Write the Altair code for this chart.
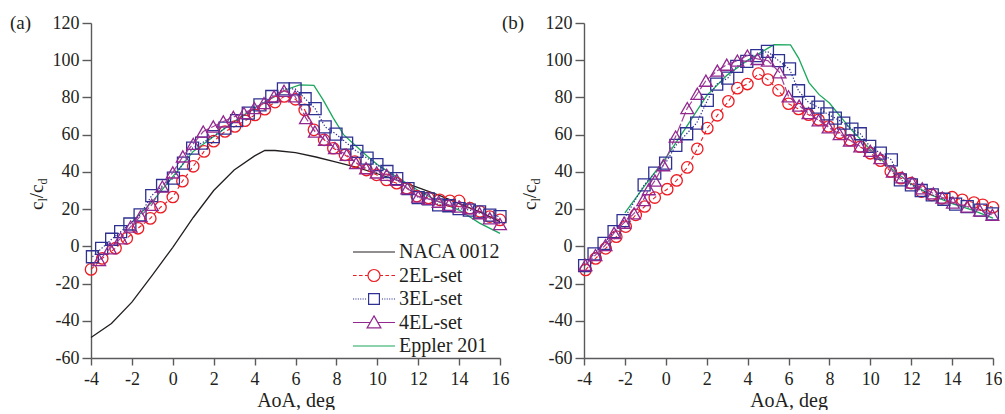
import altair as alt
import pandas as pd

SERIES = ["NACA 0012", "2EL-set", "3EL-set", "4EL-set", "Eppler 201"]
COLORS = ["#231f20", "#ed1c24", "#2e3192", "#92278f", "#1aa85c"]
X_TICKS = [-4, -2, 0, 2, 4, 6, 8, 10, 12, 14, 16]
Y_TICKS = [-60, -40, -20, 0, 20, 40, 60, 80, 100, 120]

# ---------------- panel (a) ----------------
A_NACA_X = [-4, -3, -2, -1, 0, 1, 2, 3, 4, 4.5, 5, 6, 7, 8, 9, 10, 11, 12, 13, 14, 15, 16]
A_NACA_Y = [-49, -41.5, -30, -15.5, -0.5, 15.5, 30.0, 41.0, 48.6, 51.5, 51.5, 50.3, 48.0, 45.2, 42.4, 39.0,
            35.5, 31.5, 27.5, 23.0, 18.5, 13.3]

A_EPP_X = [-2, -1, 0, 1, 2, 3, 4, 5, 5.5, 6.2, 6.9, 7.35, 7.85, 8.35, 8.9, 9.5, 10, 11, 12, 13, 14, 15, 16]
A_EPP_Y = [13, 24, 37.5, 51, 59, 67, 74.5, 80.5, 84, 86.8, 86.5, 78.7, 68.9, 60, 54.5, 48.5, 44, 37, 30,
           24, 19.5, 12.5, 7]

A_2EL_X = [-4, -3.45, -2.8, -2.25, -1.7, -1.1, -0.6, 0, 0.47, 1.0, 1.53, 2.0, 2.55, 3.04, 3.53, 4.02, 4.5,
           5.0, 5.45, 6.0, 6.45, 6.9, 7.4, 7.85, 8.42, 8.9, 9.47, 9.96, 10.45, 10.95, 11.44, 11.93, 12.5,
           13.05, 13.55, 14.0, 14.53, 15.02, 15.5, 16.0]
A_2EL_Y = [-12.4, -6.5, -1.0, 4.3, 9.7, 15.0, 21.0, 26.5, 35.0, 43.0, 51.0, 56.5, 61.7, 64.4, 67.5, 70.6,
           73.7, 77.5, 80.5, 79.0, 73.3, 62.6, 57.2, 52.7, 49.1, 45.5, 41.0, 38.4, 35.7, 33.9, 31.2, 27.0,
           26.0, 25.0, 24.5, 24.4, 20.5, 18.7, 16.0, 14.2]

A_3EL_X = [-3.93, -3.48, -2.99, -2.55, -2.1, -1.6, -1.03, -0.5, 0.03, 0.52, 0.97, 1.41, 1.98, 2.55, 3.12,
           3.69, 4.26, 4.84, 5.41, 5.98, 6.47, 6.96, 7.45, 7.98, 8.5, 9.0, 9.5, 9.98, 10.47, 10.95, 11.5,
           12.0, 12.5, 13.0, 13.5, 14.0, 14.5, 15.0, 15.5, 16.0]
A_3EL_Y = [-5.6, -1.1, 3.8, 7.9, 12.0, 16.9, 27.3, 32.7, 36.6, 44.7, 52.8, 55.5, 59.0, 63.5, 67.5, 71.6,
           76.0, 80.5, 84.6, 84.6, 79.3, 74.0, 64.2, 60.3, 55.5, 51.0, 47.4, 43.9, 40.2, 36.4, 31.0, 26.2,
           25.5, 22.3, 21.8, 20.3, 19.5, 18.5, 16.8, 16.0]

A_4EL_X = [-3.6, -3.07, -2.55, -2.06, -1.57, -1.03, -0.51, 0.0, 0.49, 1.0, 1.49, 1.98, 2.47, 2.96, 3.48,
           3.99, 4.46, 4.95, 5.44, 5.98, 6.51, 6.95, 7.44, 7.93, 8.5, 8.96, 9.45, 9.97, 10.46, 10.95, 11.47,
           12.0, 12.5, 13.0, 13.5, 14.0, 14.5, 15.0, 15.5, 16.0]
A_4EL_Y = [-7.4, -1.1, 4.3, 10.6, 16.3, 22.3, 32.1, 39.7, 48.3, 55.1, 61.7, 64.4, 67.1, 69.5, 71.6, 74.3,
           77.0, 80.6, 83.6, 80.6, 68.9, 61.7, 57.3, 52.8, 49.2, 44.7, 42.0, 39.7, 38.4, 35.7, 31.2, 26.7,
           25.5, 24.0, 22.3, 21.4, 20.5, 17.8, 15.1, 12.0]

# ---------------- panel (b) ----------------
B_EPP_X = [-2, -1, 0, 1, 2, 3, 4, 5, 5.3, 6.1, 6.5, 7.0, 7.5, 8.0, 9, 10, 11, 12, 13, 14, 15, 16]
B_EPP_Y = [18, 33, 47.5, 64, 81, 92, 100, 106.5, 108.3, 108.2, 101, 88, 81.5, 77, 63.5, 52, 42, 33.5,
           27.5, 23, 19.5, 15.2]

B_2EL_X = [-3.92, -3.43, -2.94, -2.42, -1.96, -1.47, -1.03, -0.54, 0.07, 0.53, 1.05, 1.54, 2.03, 2.52,
           3.06, 3.5, 3.99, 4.53, 4.99, 5.51, 6.0, 6.49, 6.98, 7.47, 7.96, 8.5, 9.0, 9.5, 10.0, 10.5, 11.0,
           11.5, 12.0, 12.5, 13.0, 13.5, 14.0, 14.5, 15.07, 15.5, 16.0]
B_2EL_Y = [-12.7, -6.5, -1.1, 5.2, 10.6, 16.9, 21.4, 26.2, 30.7, 35.4, 42.4, 52.4, 63.5, 70.4, 77.9, 85.0,
           87.2, 92.8, 89.6, 83.8, 76.6, 73.8, 70.7, 68.0, 64.4, 61.0, 57.0, 53.5, 50.0, 46.0, 40.2, 36.6,
           34.0, 29.4, 27.6, 25.8, 26.4, 25.0, 23.5, 22.3, 21.0]

B_3EL_X = [-3.97, -3.51, -3.02, -2.53, -2.09, -1.06, -0.54, -0.01, 0.49, 1.02, 1.51, 2.03, 2.49, 3.03,
           3.47, 3.96, 4.45, 4.97, 5.51, 6.05, 6.49, 6.98, 7.44, 7.88, 8.29, 8.7, 9.1, 9.51, 9.97, 10.49,
           11.03, 11.47, 12.01, 12.49, 13.03, 13.6, 14.17, 14.74, 15.4, 15.97]
B_3EL_Y = [-10.4, -4.1, 1.6, 7.9, 13.8, 33.0, 39.3, 44.7, 54.2, 60.5, 66.2, 78.4, 87.2, 90.4, 96.7, 99.4,
           102.5, 104.8, 99.8, 95.3, 83.6, 77.3, 74.8, 71.2, 68.9, 66.2, 63.0, 60.5, 53.7, 50.1, 46.5, 35.7,
           33.0, 30.0, 27.6, 25.3, 22.7, 21.3, 19.5, 17.4]

B_4EL_X = [-3.93, -3.44, -2.95, -2.53, -2.04, -1.55, -1.1, -0.83, -0.53, -0.12, 0.48, 1.05, 1.54, 1.96,
           2.52, 2.98, 3.5, 3.99, 4.48, 4.99, 5.56, 6.0, 6.52, 6.98, 7.47, 7.96, 8.5, 9.0, 9.51, 10.0,
           10.49, 11.1, 11.56, 12.05, 12.54, 13.08, 13.52, 14.04, 14.74, 15.36, 15.97]
B_4EL_Y = [-10.0, -4.7, 0.7, 7.2, 12.7, 17.7, 24.9, 30.7, 35.3, 43.6, 59.0, 74.3, 82.0, 89.0, 94.4, 97.6,
           99.8, 102.5, 100.7, 99.8, 93.5, 80.6, 75.6, 71.6, 67.7, 63.9, 60.3, 56.9, 53.7, 51.3, 47.4, 40.2,
           37.1, 34.3, 31.2, 28.5, 26.2, 23.5, 21.4, 19.2, 16.9]

FONT = "Liberation Serif"
INK = "#231f20"
W, H = 409, 335
LABEL_EXPR = "datum.value < 0 ? '-' + abs(datum.value) : '' + datum.value"


def segs(pairs):
    return "".join(f"M{a},0H{b}" for a, b in pairs)


CIRCLE = "M1,0A1,1,0,1,1,-1,0A1,1,0,1,1,1,0Z"
SQUARE = "M-0.9,-0.9H0.9V0.9H-0.9Z"
TRIANGLE = "M0,-1.1L1.15,0.9H-1.15Z"
dots_left = [(round(-3.5 + 0.4 * i, 2), round(-3.5 + 0.4 * i + 0.18, 2)) for i in range(6)]
dots_right = [(-b, -a) for a, b in dots_left]
LEGEND_SHAPES = [
    segs([(-3.5, 3.5)]),
    segs([(-3.5, -2.9), (-2.5, -1.9), (-1.5, -1.0), (1.0, 1.5), (1.9, 2.5), (2.9, 3.5)]) + CIRCLE,
    segs(dots_left + dots_right) + SQUARE,
    segs([(-3.5, -0.63), (0.63, 3.5)]) + TRIANGLE,
    segs([(-3.5, 3.5)]),
]


def xenc():
    return alt.X("x:Q", scale=alt.Scale(domain=[-4, 16], nice=False, zero=False),
                 axis=alt.Axis(values=X_TICKS, title="AoA, deg", tickSize=7, labelPadding=5,
                               titlePadding=2, labelFlush=False, labelExpr=LABEL_EXPR))


def yenc():
    return alt.Y("y:Q", scale=alt.Scale(domain=[-60, 120], nice=False, zero=False),
                 axis=alt.Axis(values=Y_TICKS, title=None, tickSize=9, labelPadding=3,
                               labelFlush=False, labelExpr=LABEL_EXPR))


def df(xs, ys):
    return pd.DataFrame({"x": xs, "y": ys})


def line(xs, ys, color, dash=None, width=1.2):
    kw = dict(color=color, strokeWidth=width, clip=False)
    if dash:
        kw["strokeDash"] = dash
    return alt.Chart(df(xs, ys)).mark_line(**kw).encode(x=xenc(), y=yenc())


def points(xs, ys, color, shape, size):
    return alt.Chart(df(xs, ys)).mark_point(shape=shape, filled=False, size=size, color=color,
                                            opacity=1, strokeWidth=1.3, clip=False).encode(
        x=xenc(), y=yenc())


def text(t, x, y, size, angle=0, dy=0, align="left", baseline="alphabetic"):
    return alt.Chart(pd.DataFrame({"d": [0]})).mark_text(
        text=t, font=FONT, fontSize=size, angle=angle, dy=dy, align=align, baseline=baseline,
        color=INK).encode(x=alt.value(x), y=alt.value(y))


def legend_layer():
    return alt.Chart(pd.DataFrame({"series": SERIES})).transform_filter("false").mark_point(
        filled=False, size=144, opacity=1, strokeWidth=1.2).encode(
        color=alt.Color("series:N", scale=alt.Scale(domain=SERIES, range=COLORS), legend=alt.Legend(title=None)),
        shape=alt.Shape("series:N", scale=alt.Scale(domain=SERIES, range=LEGEND_SHAPES),
                        legend=alt.Legend(title=None)),
    )


def ytitle():
    y0 = 187
    return [
        text("c", -48, y0, 19, angle=270),
        text("l", -48, y0 - 8.4, 12, angle=270, dy=4),
        text("/c", -48, y0 - 11.8, 19, angle=270),
        text("d", -48, y0 - 25.5, 12, angle=270, dy=4),
    ]


def panel(label, label_x, naca, epp, s2, s3, s4):
    layers = []
    if naca is not None:
        layers.append(line(naca[0], naca[1], COLORS[0], width=1.3))
    layers.append(line(epp[0], epp[1], COLORS[4], width=1.3))
    layers.append(line(s2[0], s2[1], COLORS[1], dash=[4, 3], width=1.1))
    layers.append(points(s2[0], s2[1], COLORS[1], "circle", 130))
    layers.append(line(s3[0], s3[1], COLORS[2], dash=[1.3, 1.8], width=1.2))
    layers.append(points(s3[0], s3[1], COLORS[2], "square", 144))
    layers.append(line(s4[0], s4[1], "#a0429a", dash=[10, 2.5], width=1.2))
    layers.append(points(s4[0], s4[1], COLORS[3], "triangle-up", 165))
    layers.append(legend_layer())
    layers += ytitle()
    layers.append(text(label, label_x, 0, 19, baseline="middle"))
    return alt.layer(*layers).properties(width=W, height=H)


pa = panel("(a)", -81, (A_NACA_X, A_NACA_Y), (A_EPP_X, A_EPP_Y), (A_2EL_X, A_2EL_Y),
           (A_3EL_X, A_3EL_Y), (A_4EL_X, A_4EL_Y))
pb = panel("(b)", -82, None, (B_EPP_X, B_EPP_Y), (B_2EL_X, B_2EL_Y), (B_3EL_X, B_3EL_Y),
           (B_4EL_X, B_4EL_Y))

chart = alt.hconcat(pa, pb, spacing=84, bounds="flush").properties(
    padding={"left": 10, "top": 14, "right": 0, "bottom": 0}
).configure(font=FONT).configure_view(stroke=None).configure_axis(
    labelFont=FONT, titleFont=FONT, labelFontSize=18, titleFontSize=20, titleFontWeight="normal",
    labelColor=INK, titleColor=INK, domainColor="#5a5a5c", tickColor="#5a5a5c",
    domainWidth=1.4, tickWidth=1.4, grid=False,
).configure_legend(
    orient="none", legendX=273, legendY=219, labelFont=FONT, labelFontSize=20, labelColor=INK,
    labelOffset=15, rowPadding=3.5, padding=0, symbolSize=144, symbolStrokeWidth=1.2,
)

chart.save("out.html", embed_options={"renderer": "svg", "actions": False})
